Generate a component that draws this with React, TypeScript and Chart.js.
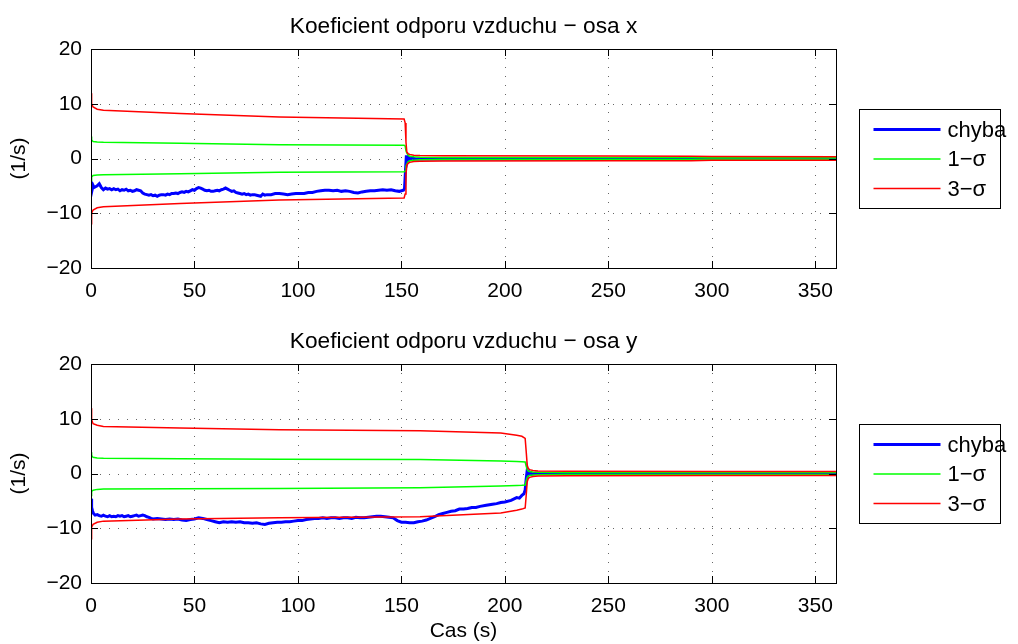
import React, { useEffect, useRef } from "react";
import { Chart, registerables } from "chart.js";

Chart.register(...registerables);

const FONT = '"Liberation Sans", Arial, Helvetica, sans-serif';

// ---------------- text ----------------
const titleX = "Koeficient odporu vzduchu \u2212 osa x";
const titleY = "Koeficient odporu vzduchu \u2212 osa y";
const legendLabels = ["chyba", "1\u2212\u03c3", "3\u2212\u03c3"];
const yAxisLabel = "(1/s)";
const xAxisLabel = "Cas (s)";

// ---------------- axes ----------------
const xMin = 0;
const xMax = 360;
const xStep = 50;
const yMin = -20;
const yMax = 20;
const yStep = 10;

// ---------------- panel 1: osa x ----------------
const sigmaTimeX = [0, 0.3, 1, 3, 6, 43, 91, 151.3, 151.8, 152.2, 152.6, 153.2, 154, 156, 159, 170, 250, 290, 300, 360];
const threeUpX = [11.9, 10.0, 9.4, 9.0, 8.8, 8.2, 7.6, 7.2, 6.5, 3.0, 1.2, 0.9, 0.75, 0.6, 0.55, 0.5, 0.45, 0.42, 0.35, 0.33];
const threeLoX = [-11.9, -10.0, -9.4, -9.0, -8.8, -8.2, -7.6, -7.2, -6.5, -3.0, -1.2, -0.9, -0.7, -0.55, -0.5, -0.45, -0.42, -0.4, -0.33, -0.3];
const oneUpX = [4.0, 3.4, 3.1, 3.0, 2.95, 2.8, 2.5, 2.4, 2.3, 1.4, 1.0, 0.6, 0.4, 0.3, 0.25, 0.2, 0.18, 0.17, 0.15, 0.15];
const oneLoX = [-4.0, -3.4, -3.1, -3.0, -2.95, -2.8, -2.5, -2.4, -2.3, -1.4, -1.0, -0.6, -0.4, -0.3, -0.25, -0.2, -0.18, -0.17, -0.15, -0.15];

const errTimeX = [0, 0.3, 0.6, 1, 1.5, 2, 3, 4, 5, 6, 7, 8, 9, 10, 11, 12, 13, 14, 15, 16, 17, 18, 19, 20, 21, 22, 23, 24, 25, 26, 27, 28, 29, 30, 31, 32, 33, 34, 35, 36, 37, 38, 39, 40, 41, 42, 43, 44, 45, 46, 47, 48, 49, 50, 51, 52, 53, 54, 55, 56, 57, 58, 59, 60, 61, 62, 63, 64, 65, 66, 67, 68, 69, 70, 71, 72, 73, 74, 75, 76, 77, 78, 79, 80, 81, 82, 83, 84, 85, 87, 89, 91, 93, 95, 97, 99, 101, 103, 105, 107, 109, 111, 113, 115, 117, 119, 121, 123, 125, 127, 129, 131, 133, 135, 137, 139, 141, 143, 145, 147, 149, 150, 151, 151.5, 152, 152.4, 152.8, 153.3, 154, 155, 157, 160, 200, 250, 300, 360];
const errValX = [-5.0, -4.3, -5.6, -4.9, -5.3, -5.2, -5.0, -4.6, -5.3, -5.7, -5.4, -5.6, -5.5, -5.7, -5.5, -5.7, -5.6, -5.9, -5.7, -5.8, -5.6, -5.9, -5.8, -6.0, -5.9, -5.7, -5.8, -5.9, -6.3, -6.5, -6.6, -6.7, -6.6, -6.8, -6.7, -6.9, -6.7, -6.6, -6.6, -6.7, -6.5, -6.6, -6.4, -6.4, -6.3, -6.4, -6.2, -6.1, -6.2, -6.0, -6.1, -5.9, -5.7, -5.8, -5.5, -5.3, -5.4, -5.6, -5.8, -5.9, -5.8, -6.0, -6.0, -5.9, -5.8, -5.9, -5.7, -5.6, -5.4, -5.6, -5.8, -6.0, -5.9, -6.2, -6.3, -6.4, -6.5, -6.4, -6.6, -6.5, -6.7, -6.6, -6.6, -6.7, -6.8, -6.9, -6.5, -6.7, -6.6, -6.6, -6.4, -6.4, -6.5, -6.6, -6.5, -6.4, -6.4, -6.4, -6.2, -6.2, -6.0, -5.9, -5.8, -5.8, -5.9, -5.8, -6.0, -5.9, -6.0, -6.2, -6.3, -6.1, -6.0, -5.9, -5.9, -5.8, -5.7, -5.8, -5.7, -5.9, -6.0, -5.9, -5.8, -5.5, -2.0, 0.6, -0.5, 0.3, -0.2, 0.1, -0.1, -0.05, -0.1, -0.05, -0.1, -0.05];

// ---------------- panel 2: osa y ----------------
const sigmaTimeY = [0, 0.3, 1, 3, 6, 43, 91, 159, 198, 205.7, 208.2, 209.8, 210.3, 210.8, 211.3, 212, 213.5, 216, 230, 300, 360];
const threeUpY = [11.9, 9.8, 9.1, 8.8, 8.6, 8.3, 8.0, 7.8, 7.4, 7.0, 6.8, 6.4, 4.0, 1.5, 0.9, 0.7, 0.55, 0.45, 0.4, 0.35, 0.35];
const threeLoY = [-11.9, -9.8, -9.3, -8.9, -8.7, -8.3, -8.1, -7.9, -7.2, -6.7, -6.5, -6.3, -4.0, -1.5, -0.9, -0.7, -0.55, -0.45, -0.4, -0.35, -0.35];
const oneUpY = [3.9, 3.3, 2.95, 2.85, 2.8, 2.7, 2.6, 2.55, 2.3, 2.2, 2.15, 2.1, 1.3, 0.7, 0.45, 0.35, 0.28, 0.22, 0.2, 0.18, 0.18];
const oneLoY = [-4.0, -3.3, -3.05, -2.9, -2.85, -2.8, -2.75, -2.6, -2.3, -2.2, -2.15, -2.1, -1.3, -0.7, -0.45, -0.35, -0.28, -0.22, -0.2, -0.18, -0.18];

const errTimeY = [0, 0.3, 0.7, 1.2, 2, 3, 4, 5, 6, 7, 8, 9, 10, 11, 12, 13, 14, 15, 16, 17, 18, 19, 20, 21, 22, 23, 24, 25, 26, 27, 28, 29, 30, 32, 34, 36, 38, 40, 42, 44, 46, 48, 50, 52, 54, 56, 58, 60, 62, 64, 66, 68, 70, 72, 74, 76, 78, 80, 82, 84, 86, 88, 90, 92, 94, 96, 98, 100, 102, 104, 106, 108, 110, 112, 114, 116, 118, 120, 122, 124, 126, 128, 130, 132, 134, 136, 138, 140, 142, 144, 146, 148, 150, 152, 154, 156, 158, 160, 162, 164, 166, 168, 170, 172, 174, 176, 178, 180, 182, 184, 186, 188, 191, 194, 196, 198, 200, 203, 205.7, 207, 208.2, 209.2, 209.8, 210.3, 210.8, 211.3, 212, 213, 215, 220, 260, 300, 360];
const errValY = [-4.6, -6.2, -6.8, -7.3, -7.6, -7.5, -7.7, -7.8, -7.6, -7.8, -7.9, -7.7, -7.9, -7.8, -7.9, -7.7, -7.8, -7.7, -7.9, -7.8, -7.7, -7.9, -7.8, -7.7, -7.6, -7.8, -7.7, -7.6, -7.7, -7.9, -8.0, -8.2, -8.3, -8.2, -8.3, -8.4, -8.3, -8.4, -8.3, -8.5, -8.6, -8.4, -8.3, -8.1, -8.2, -8.4, -8.6, -8.8, -9.0, -8.8, -8.9, -8.8, -8.9, -8.8, -9.0, -9.0, -9.1, -9.0, -9.2, -9.3, -9.1, -9.0, -8.9, -8.9, -8.8, -8.8, -8.7, -8.6, -8.6, -8.4, -8.3, -8.2, -8.2, -8.1, -8.2, -8.1, -8.1, -8.2, -8.1, -8.1, -8.2, -8.0, -8.1, -8.1, -8.0, -7.9, -7.8, -7.8, -7.9, -8.0, -8.1, -8.6, -8.9, -8.9, -9.0, -9.0, -8.8, -8.7, -8.5, -8.2, -7.9, -7.5, -7.3, -7.1, -6.9, -6.8, -6.5, -6.5, -6.4, -6.2, -6.2, -6.0, -5.8, -5.6, -5.5, -5.3, -5.2, -4.9, -4.4, -4.5, -4.0, -3.7, -3.0, -1.0, 0.6, -0.3, 0.2, -0.1, 0.05, 0.0, 0.05, 0.0, 0.05];

// ---------------- styling ----------------
const COLOR_ERR = "#0000ff";
const COLOR_ONE = "#00ff00";
const COLOR_THREE = "#ff0000";

type Panel = {
  title: string;
  showXTitle: boolean;
  padTop: number;
  xAxisHeight: number;
  sigmaTime: number[];
  threeUp: number[];
  threeLo: number[];
  oneUp: number[];
  oneLo: number[];
  errTime: number[];
  errVal: number[];
};

const panels: Panel[] = [
  { title: titleX, showXTitle: false, padTop: 49, xAxisHeight: 54, sigmaTime: sigmaTimeX, threeUp: threeUpX, threeLo: threeLoX, oneUp: oneUpX, oneLo: oneLoX, errTime: errTimeX, errVal: errValX },
  { title: titleY, showXTitle: true, padTop: 42, xAxisHeight: 61, sigmaTime: sigmaTimeY, threeUp: threeUpY, threeLo: threeLoY, oneUp: oneUpY, oneLo: oneLoY, errTime: errTimeY, errVal: errValY },
];

const W = 1018;
const H = 322;
const Y_AXIS_W = 91;
const RIGHT_PAD = 182;

const pts = (t: number[], v: number[]) => t.map((x, i) => ({ x, y: v[i] }));
const minus = (v: number | string) => String(v).replace("-", "\u2212");

const matlabPlugin = {
  id: "matlabAxes",
  beforeDatasetsDraw(chart: any) {
    const { ctx, chartArea: a, scales } = chart;
    const xs = scales.x;
    const ys = scales.y;
    ctx.save();
    ctx.strokeStyle = "rgba(0,0,0,0.6)";
    ctx.lineWidth = 1;
    ctx.setLineDash([1, 8]);
    xs.ticks.forEach((t: any) => {
      const px = Math.round(xs.getPixelForValue(t.value)) + 0.5;
      if (px > a.left + 2 && px < a.right - 2) {
        ctx.beginPath();
        ctx.moveTo(px, a.top);
        ctx.lineTo(px, a.bottom);
        ctx.stroke();
      }
    });
    ys.ticks.forEach((t: any) => {
      const py = Math.round(ys.getPixelForValue(t.value)) + 0.5;
      if (py > a.top + 2 && py < a.bottom - 2) {
        ctx.beginPath();
        ctx.moveTo(a.left, py);
        ctx.lineTo(a.right, py);
        ctx.stroke();
      }
    });
    ctx.restore();
  },
  afterDatasetsDraw(chart: any, _args: any, opts: any) {
    const { ctx, chartArea: a, scales } = chart;
    const xs = scales.x;
    const ys = scales.y;
    const tl = 7;
    ctx.save();
    ctx.strokeStyle = "#000";
    ctx.lineWidth = 1;
    ctx.setLineDash([]);
    xs.ticks.forEach((t: any) => {
      const px = Math.round(xs.getPixelForValue(t.value)) + 0.5;
      ctx.beginPath();
      ctx.moveTo(px, a.bottom);
      ctx.lineTo(px, a.bottom - tl);
      ctx.moveTo(px, a.top);
      ctx.lineTo(px, a.top + tl);
      ctx.stroke();
    });
    ys.ticks.forEach((t: any) => {
      const py = Math.round(ys.getPixelForValue(t.value)) + 0.5;
      ctx.beginPath();
      ctx.moveTo(a.left, py);
      ctx.lineTo(a.left + tl, py);
      ctx.moveTo(a.right, py);
      ctx.lineTo(a.right - tl, py);
      ctx.stroke();
    });
    ctx.strokeRect(Math.round(a.left) + 0.5, Math.round(a.top) + 0.5, Math.round(a.right - a.left), Math.round(a.bottom - a.top));

    // title
    ctx.fillStyle = "#000";
    ctx.font = `22.7px ${FONT}`;
    ctx.textAlign = "center";
    ctx.textBaseline = "alphabetic";
    ctx.fillText(opts.title, (a.left + a.right) / 2, a.top - 16);

    // legend
    const bw = 141;
    const bh = 99;
    const bx = Math.round(a.right + 23) + 0.5;
    const by = Math.round((a.top + a.bottom) / 2 - bh / 2) + 0.5;
    ctx.fillStyle = "#fff";
    ctx.fillRect(bx, by, bw, bh);
    ctx.strokeStyle = "#000";
    ctx.lineWidth = 1;
    ctx.strokeRect(bx, by, bw, bh);
    const rows = [
      { label: legendLabels[0], color: COLOR_ERR, w: 3 },
      { label: legendLabels[1], color: COLOR_ONE, w: 1.5 },
      { label: legendLabels[2], color: COLOR_THREE, w: 1.5 },
    ];
    const rowY = [20, 49.5, 79];
    ctx.font = `22px ${FONT}`;
    ctx.textAlign = "left";
    ctx.textBaseline = "middle";
    rows.forEach((r, i) => {
      const y = by + rowY[i];
      ctx.strokeStyle = r.color;
      ctx.lineWidth = r.w;
      ctx.beginPath();
      ctx.moveTo(bx + 14, y);
      ctx.lineTo(bx + 81, y);
      ctx.stroke();
      ctx.fillStyle = "#000";
      ctx.fillText(r.label, bx + 88, y + 1);
    });
    ctx.restore();
  },
};

function makeConfig(p: Panel): any {
  const line = (label: string, data: any[], color: string, width: number, order: number) => ({
    label,
    data,
    borderColor: color,
    backgroundColor: color,
    borderWidth: width,
    pointRadius: 0,
    tension: 0,
    fill: false,
    order,
  });
  return {
    type: "line",
    data: {
      datasets: [
        line(legendLabels[0], pts(p.errTime, p.errVal), COLOR_ERR, 3, 3),
        line(legendLabels[1], pts(p.sigmaTime, p.oneUp), COLOR_ONE, 1.5, 2),
        line(legendLabels[1], pts(p.sigmaTime, p.oneLo), COLOR_ONE, 1.5, 2),
        line(legendLabels[2], pts(p.sigmaTime, p.threeUp), COLOR_THREE, 1.5, 1),
        line(legendLabels[2], pts(p.sigmaTime, p.threeLo), COLOR_THREE, 1.5, 1),
      ],
    },
    options: {
      responsive: false,
      animation: false,
      devicePixelRatio: 1,
      layout: { padding: { top: p.padTop, right: RIGHT_PAD, left: 0, bottom: 0 } },
      plugins: {
        legend: { display: false },
        title: { display: false },
        tooltip: { enabled: false },
        matlabAxes: { title: p.title },
      },
      scales: {
        x: {
          type: "linear",
          min: xMin,
          max: xMax,
          grid: { display: false, drawTicks: false },
          border: { display: false },
          ticks: {
            stepSize: xStep,
            includeBounds: false,
            maxRotation: 0,
            autoSkip: false,
            padding: 11,
            color: "#000",
            font: { family: FONT, size: 21 },
          },
          title: {
            display: p.showXTitle,
            text: xAxisLabel,
            color: "#000",
            font: { family: FONT, size: 21 },
            padding: { top: 0, bottom: 0 },
          },
          afterFit: (s: any) => {
            s.height = p.xAxisHeight;
          },
        },
        y: {
          type: "linear",
          min: yMin,
          max: yMax,
          grid: { display: false, drawTicks: false },
          border: { display: false },
          ticks: {
            stepSize: yStep,
            padding: 9,
            color: "#000",
            font: { family: FONT, size: 21 },
            callback: (v: number) => minus(v),
          },
          title: {
            display: true,
            text: yAxisLabel,
            color: "#000",
            font: { family: FONT, size: 21 },
            padding: { top: 7, bottom: 0 },
          },
          afterFit: (s: any) => {
            s.width = Y_AXIS_W;
          },
        },
      },
    },
    plugins: [matlabPlugin],
  };
}

export default function App() {
  const ref1 = useRef<HTMLCanvasElement | null>(null);
  const ref2 = useRef<HTMLCanvasElement | null>(null);

  useEffect(() => {
    const charts: Chart[] = [];
    [ref1, ref2].forEach((r, i) => {
      if (r.current) charts.push(new Chart(r.current, makeConfig(panels[i])));
    });
    return () => charts.forEach((c) => c.destroy());
  }, []);

  return (
    <div style={{ position: "absolute", left: 0, top: 0, width: W, height: 2 * H, background: "#fff" }}>
      <canvas ref={ref1} width={W} height={H} style={{ position: "absolute", left: 0, top: 0, display: "block" }} />
      <canvas ref={ref2} width={W} height={H} style={{ position: "absolute", left: 0, top: H, display: "block" }} />
    </div>
  );
}
